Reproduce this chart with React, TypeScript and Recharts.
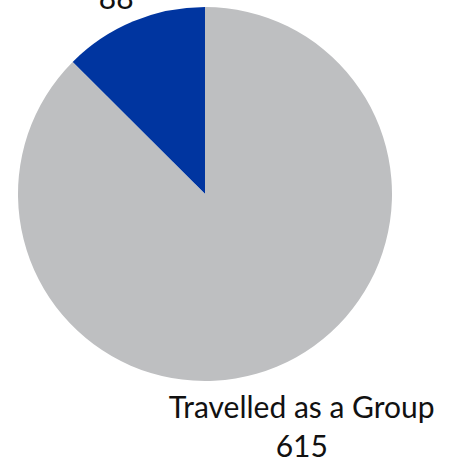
import React from 'react';
import { PieChart, Pie, Cell } from 'recharts';

const categories = ['Travelled Alone', 'Travelled as a Group'];
const values = [88, 615];
const colors = ['#0035A0', '#BEBFC1'];

const data = categories.map((name, i) => ({ name, value: values[i] }));

const RADIAN = Math.PI / 180;

const renderLabel = ({ cx, cy, midAngle, outerRadius, name, value }: any) => {
  const r = outerRadius + 55;
  const x = cx + 4 + r * Math.cos(-midAngle * RADIAN);
  const y = cy + r * Math.sin(-midAngle * RADIAN);
  return (
    <text
      x={x}
      y={y}
      textAnchor="middle"
      fill="#111"
      style={{ fontFamily: 'Lato, sans-serif', fontSize: 30 }}
    >
      <tspan x={x} dy={0}>{name}</tspan>
      <tspan x={x} dy={39}>{value}</tspan>
    </text>
  );
};

export default function App() {
  return (
    <div style={{ position: 'absolute', left: 0, top: 0, width: 451, height: 469, background: '#fff' }}>
      <PieChart width={451} height={469} margin={{ top: 0, right: 0, bottom: 0, left: 0 }}>
        <Pie
          data={data}
          dataKey="value"
          nameKey="name"
          cx={205}
          cy={194}
          outerRadius={187}
          startAngle={90}
          endAngle={450}
          stroke="none"
          label={renderLabel}
          labelLine={false}
          isAnimationActive={false}
        >
          {data.map((d, i) => (
            <Cell key={d.name} fill={colors[i]} />
          ))}
        </Pie>
      </PieChart>
    </div>
  );
}
